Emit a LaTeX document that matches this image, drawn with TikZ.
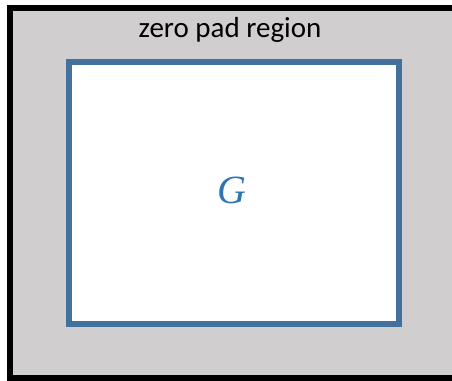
\documentclass[tikz,border=0pt]{standalone}
\usepackage{fontspec}
\setmainfont{Carlito}
\newfontfamily\gfont{Liberation Serif}
\definecolor{padgray}{RGB}{208,206,206}
\definecolor{edgeblue}{RGB}{65,113,156}
\definecolor{textblue}{RGB}{46,117,182}
\begin{document}
\begin{tikzpicture}[x=1pt,y=-1pt,
  outerbox/.style={draw=black,line width=6pt,fill=padgray},
  innerbox/.style={draw=edgeblue,line width=6pt,fill=white}]
\useasboundingbox (0,0) rectangle (452,380);
\clip (0,0) rectangle (452,380);
\fill[white] (0,0) rectangle (452,380);
\node[outerbox,minimum width=453pt,minimum height=370pt,anchor=north west,inner sep=0pt] (pad) at (7,5) {};
\node[innerbox,minimum width=330pt,minimum height=262pt,anchor=north west,inner sep=0pt] (g) at (66,59) {};
\node[font=\fontsize{29}{31}\selectfont] (lbl) at (230,30) {zero pad region};
\node[font=\gfont\itshape\fontsize{40}{44}\selectfont,text=textblue] (gl) at (232,190) {G};
\end{tikzpicture}
\end{document}
